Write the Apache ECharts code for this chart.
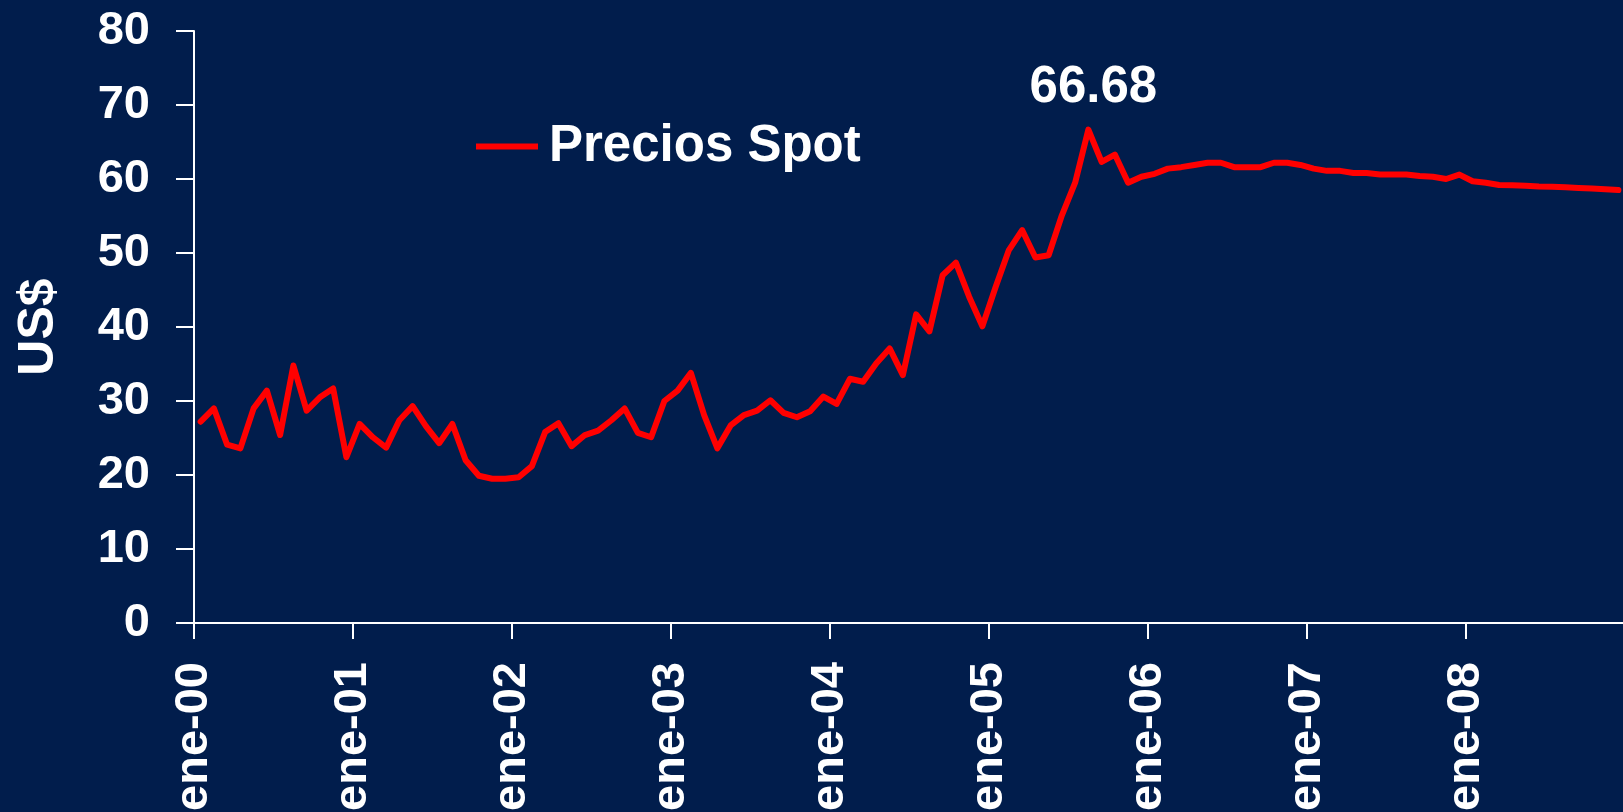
<!DOCTYPE html>
<html>
<head>
<meta charset="utf-8">
<title>Precios Spot</title>
<script src="https://cdn.jsdelivr.net/npm/echarts@6/dist/echarts.min.js"></script>
<style>
  html, body {
    margin: 0;
    padding: 0;
    background: #011d4c;
  }
  #precios_spot {
    width: 1623px;
    height: 812px;
  }
</style>
</head>
<body>
<div id="precios_spot"></div>
<script>
// etiquetas de cada enero (una cada 12 meses)
const yearLabels = ["ene-00", "ene-01", "ene-02", "ene-03", "ene-04", "ene-05", "ene-06", "ene-07", "ene-08"];

// precios mensuales, ene-00 .. dic-08
const prices = [
  27.2, 29.0, 24.1, 23.6, 29.0, 31.4, 25.4, 34.8, 28.7, 30.5, 31.7, 22.4,
  26.9, 25.1, 23.7, 27.4, 29.3, 26.6, 24.3, 26.9, 22.0, 19.9, 19.5, 19.5,
  19.7, 21.2, 25.8, 27.0, 23.9, 25.4, 26.0, 27.4, 29.0, 25.7, 25.1, 30.0,
  31.4, 33.8, 28.1, 23.6, 26.7, 28.1, 28.7, 30.1, 28.4, 27.8, 28.6, 30.6,
  29.6, 33.0, 32.6, 35.1, 37.1, 33.5, 41.7, 39.4, 47.0, 48.7, 44.1, 40.1,
  45.4, 50.4, 53.1, 49.4, 49.7, 55.1, 59.5, 66.68, 62.3, 63.3, 59.5, 60.3,
  60.7, 61.4, 61.6, 61.9, 62.2, 62.2, 61.6, 61.6, 61.6, 62.2, 62.2, 61.9,
  61.4, 61.1, 61.1, 60.8, 60.8, 60.6, 60.6, 60.6, 60.4, 60.3, 60.0, 60.6,
  59.7, 59.5, 59.2, 59.15, 59.1, 59.0, 58.95, 58.9, 58.8, 58.7, 58.6, 58.5
];

const peakValue = 66.68;
const peakIndex = prices.indexOf(peakValue);

const chart = echarts.init(document.getElementById("precios_spot"));

const font = "'Liberation Sans', Arial, sans-serif";

// cada mes se dibuja en el centro de su intervalo
const seriesData = prices.map((v, i) => [i + 0.5, v]);

const option = {
  backgroundColor: "#011d4c",
  animation: false,
  legend: {
    left: 471,
    top: 116,
    icon: "rect",
    itemWidth: 62,
    itemHeight: 6,
    selectedMode: false,
    textStyle: {
      color: "#ffffff",
      fontFamily: font,
      fontWeight: "bold",
      fontSize: 51,
      padding: [0, 0, 0, 6],
    },
    data: ["Precios Spot"],
  },
  grid: {
    left: 194,
    right: -2,
    top: 31,
    bottom: 189,
    containLabel: false,
    outerBoundsMode: "none",
  },
  xAxis: {
    type: "value",
    min: 0,
    max: 108,
    interval: 12,
    axisLine: {
      show: true,
      lineStyle: { color: "#ffffff", width: 2 },
    },
    axisTick: {
      show: true,
      length: 16,
      lineStyle: { color: "#ffffff", width: 2 },
    },
    splitLine: { show: false },
    axisLabel: {
      rotate: 90,
      margin: 39,
      color: "#ffffff",
      fontFamily: font,
      fontWeight: "bold",
      fontSize: 47,
      showMaxLabel: false,
      formatter: (v) => yearLabels[v / 12] || "",
    },
  },
  yAxis: {
    type: "value",
    min: 0,
    max: 80,
    interval: 10,
    name: "US$",
    nameLocation: "middle",
    nameGap: 130,
    nameTextStyle: {
      color: "#ffffff",
      fontFamily: font,
      fontWeight: "bold",
      fontSize: 50,
    },
    axisLine: {
      show: true,
      lineStyle: { color: "#ffffff", width: 2 },
    },
    axisTick: {
      show: true,
      length: 18,
      lineStyle: { color: "#ffffff", width: 2 },
    },
    splitLine: { show: false },
    axisLabel: {
      margin: 44,
      color: "#ffffff",
      fontFamily: font,
      fontWeight: "bold",
      fontSize: 47,
    },
  },
  series: [
    {
      name: "Precios Spot",
      type: "line",
      showSymbol: false,
      symbol: "none",
      color: "#ff0000",
      lineStyle: {
        width: 6,
        color: "#ff0000",
        join: "round",
        cap: "round",
      },
      data: seriesData,
      // etiqueta del maximo
      markPoint: {
        symbol: "circle",
        symbolSize: 0,
        data: [
          {
            coord: seriesData[peakIndex],
            value: peakValue,
          },
        ],
        label: {
          show: true,
          position: "top",
          distance: 16,
          offset: [5, 0],
          formatter: "{c}",
          color: "#ffffff",
          fontFamily: font,
          fontWeight: "bold",
          fontSize: 51,
        },
      },
    },
  ],
};

chart.setOption(option);
</script>
</body>
</html>
